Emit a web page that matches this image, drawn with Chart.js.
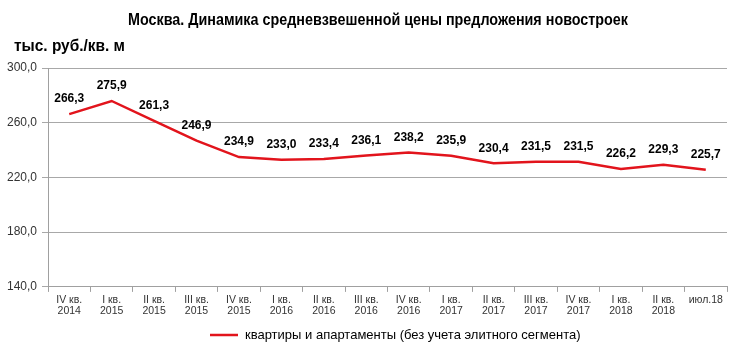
<!DOCTYPE html>
<html><head><meta charset="utf-8">
<script src="https://cdn.jsdelivr.net/npm/chart.js@4"></script>
<style>html,body{margin:0;padding:0;background:#fff}#w{width:744px;height:355px}</style>
</head><body><div id="w"><canvas id="c"></canvas></div>
<script>
const categories = [["IV кв.","2014"],["I кв.","2015"],["II кв.","2015"],["III кв.","2015"],["IV кв.","2015"],["I кв.","2016"],["II кв.","2016"],["III кв.","2016"],["IV кв.","2016"],["I кв.","2017"],["II кв.","2017"],["III кв.","2017"],["IV кв.","2017"],["I кв.","2018"],["II кв.","2018"],["июл.18"]];
const prices = [266.3,275.9,261.3,246.9,234.9,233.0,233.4,236.1,238.2,235.9,230.4,231.5,231.5,226.2,229.3,225.7];
const seriesName = "квартиры и апартаменты (без учета элитного сегмента)";
const chartTitle = "Москва. Динамика средневзвешенной цены предложения новостроек";
const unitLabel = "тыс. руб./кв. м";
const yTicks = [140,180,220,260,300];

const fmt = v => v.toFixed(1).replace('.', ',');
const SANS = "'Liberation Sans',Arial,sans-serif";
const LINE_COLOR = '#e2141c';

function narrowText(ctx, text, x, y, targetW, align) {
  const w = ctx.measureText(text).width;
  const k = targetW / w;
  ctx.save();
  ctx.translate(x, y);
  ctx.scale(k, 1);
  ctx.textAlign = align;
  ctx.fillText(text, 0, 0);
  ctx.restore();
}

const overlay = {
  id: 'overlay',
  afterDatasetsDraw(chart) {
    const ctx = chart.ctx;
    ctx.save();
    ctx.fillStyle = '#000';
    ctx.textBaseline = 'middle';
    ctx.font = "bold 17px " + SANS;
    narrowText(ctx, chartTitle, 378, 20, 500, 'center');
    ctx.font = "bold 16px " + SANS;
    narrowText(ctx, unitLabel, 14, 47, 111, 'left');
    // data labels
    const meta = chart.getDatasetMeta(0);
    ctx.font = "bold 12px " + SANS;
    ctx.textAlign = 'center'; ctx.textBaseline = 'middle';
    meta.data.forEach((p, i) => {
      ctx.fillText(fmt(prices[i]), p.x, p.y - 15);
    });
    // legend
    const ly = 335;
    ctx.strokeStyle = LINE_COLOR; ctx.lineWidth = 2.5;
    ctx.beginPath(); ctx.moveTo(210, ly); ctx.lineTo(238, ly); ctx.stroke();
    ctx.font = "13px " + SANS;
    ctx.textAlign = 'left'; ctx.textBaseline = 'middle';
    ctx.fillText(seriesName, 245, ly);
    ctx.restore();
  }
};

new Chart(document.getElementById('c'), {
  type: 'line',
  data: {
    labels: categories,
    datasets: [{
      label: seriesName,
      data: prices,
      borderColor: LINE_COLOR,
      backgroundColor: LINE_COLOR,
      borderWidth: 2.5,
      pointRadius: 0,
      tension: 0
    }]
  },
  options: {
    responsive: true,
    maintainAspectRatio: false,
    animation: false,
    layout: { padding: { top: 68, right: 17, left: 0, bottom: 36 } },
    plugins: {
      title: { display: false },
      tooltip: { enabled: false },
      legend: { display: false }
    },
    scales: {
      x: {
        offset: true,
        grid: { display: true, drawOnChartArea: false, offset: true, tickLength: 5, color: '#a0a0a0' },
        border: { color: '#a0a0a0' },
        ticks: { color: '#333', font: { family: SANS, size: 10.5, lineHeight: 1.1 }, maxRotation: 0, autoSkip: false, padding: 2 }
      },
      y: {
        min: 140, max: 300,
        afterBuildTicks(s) { s.ticks = yTicks.map(v => ({ value: v })); },
        afterFit(s) { s.width = 48; },
        grid: { color: '#a8a8a8', tickLength: 6 },
        border: { color: '#a0a0a0' },
        ticks: { color: '#333', font: { family: SANS, size: 12 }, padding: 5, callback: v => fmt(v) }
      }
    }
  },
  plugins: [overlay]
});
</script>
</body></html>
